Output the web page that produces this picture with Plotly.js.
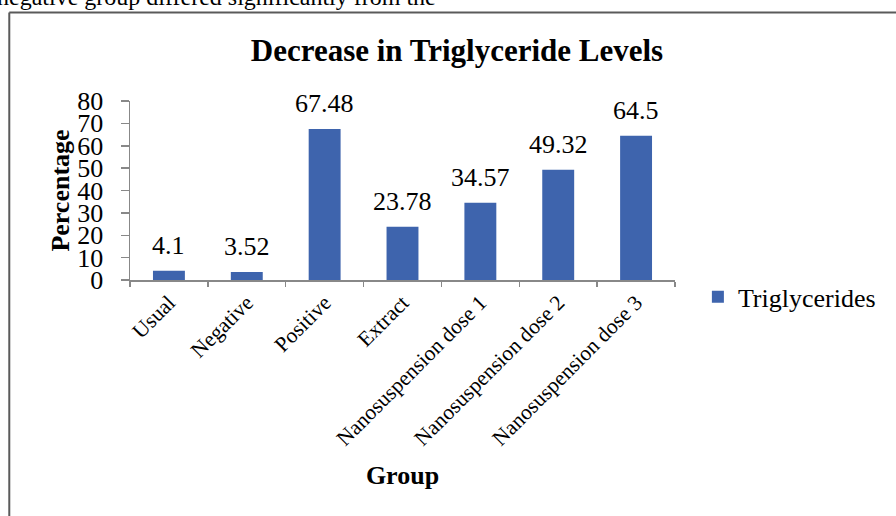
<!DOCTYPE html>
<html>
<head>
<meta charset="utf-8">
<script src="https://cdn.plot.ly/plotly-3.0.1.min.js"></script>
<style>
  html, body { margin: 0; padding: 0; background: #fff; }
  #chart { width: 896px; height: 516px; }
</style>
</head>
<body>
<div id="chart"></div>
<script>
// Percentage decrease in triglyceride levels per treatment group
const groups = ["Usual", "Negative", "Positive", "Extract",
                "Nanosuspension dose 1", "Nanosuspension dose 2", "Nanosuspension dose 3"];
const triglycerides = [4.1, 3.52, 67.48, 23.78, 34.57, 49.32, 64.5];
const yTicks = [0, 10, 20, 30, 40, 50, 60, 70, 80];

const serif = "Liberation Serif, Times New Roman, serif";
const barBlue = "#3E64AD";
const axisGrey = "#888888";
const frameGrey = "#5a5a5a";

const trace = {
  type: "bar",
  name: "Triglycerides",
  x: groups,
  y: triglycerides,
  marker: { color: barBlue },
  showlegend: true,
  hoverinfo: "x+y"
};

// value labels sitting above each bar
const valueLabels = groups.map((g, i) => ({
  x: g, y: triglycerides[i], xref: "x", yref: "y",
  text: String(triglycerides[i]),
  showarrow: false, yanchor: "bottom", yshift: 9,
  font: { family: serif, size: 26, color: "#000" }
}));

// running page text above the chart frame
const pageText = {
  xref: "paper", yref: "paper", x: -0.2477, y: 1.497,
  xanchor: "left", yanchor: "bottom", showarrow: false,
  text: "negative group differed significantly from the",
  font: { family: serif, size: 24, color: "#000" }
};

const layout = {
  width: 896, height: 516,
  margin: { l: 130, r: 221, t: 101, b: 236, pad: 0 },
  paper_bgcolor: "#fff", plot_bgcolor: "#fff",
  bargap: 0.59,
  title: {
    text: "<b>Decrease in Triglyceride Levels</b>",
    font: { family: serif, size: 31, color: "#000" },
    xref: "paper", x: 0.6, xanchor: "center",
    yref: "container", y: 1 - 50 / 516, yanchor: "middle"
  },
  xaxis: {
    type: "category",
    showline: true, linecolor: axisGrey, linewidth: 1.5,
    ticks: "outside", tickson: "boundaries", ticklen: 5, tickcolor: axisGrey, tickwidth: 1.5,
    tickangle: -45,
    tickfont: { family: serif, size: 21.5, color: "#000" },
    showgrid: false, zeroline: false,
    title: { text: "<b>Group</b>", font: { family: serif, size: 26, color: "#000" }, standoff: 16 }
  },
  yaxis: {
    range: [0, 80],
    tickvals: yTicks,
    showline: true, linecolor: axisGrey, linewidth: 1.5,
    ticks: "outside", ticklen: 8, tickcolor: axisGrey, tickwidth: 1.5,
    ticklabelstandoff: 12,
    tickfont: { family: serif, size: 26, color: "#000" },
    showgrid: false, zeroline: false,
    title: { text: "<b>Percentage</b>", font: { family: serif, size: 26, color: "#000" }, standoff: 0 }
  },
  showlegend: true,
  legend: {
    x: 1.042, xanchor: "left", y: -0.094, yanchor: "middle",
    font: { family: serif, size: 26, color: "#000" },
    bgcolor: "rgba(0,0,0,0)"
  },
  annotations: valueLabels.concat([pageText]),
  shapes: [
    // frame around the chart (left and top edges)
    { type: "line", xref: "paper", yref: "paper", x0: -0.2215, x1: -0.2215, y0: 1.4944, y1: -1.4,
      line: { color: frameGrey, width: 2 } },
    { type: "line", xref: "paper", yref: "paper", x0: -0.2215, x1: 1.45, y0: 1.4944, y1: 1.4944,
      line: { color: frameGrey, width: 2 } }
  ]
};

Plotly.newPlot("chart", [trace], layout, { displayModeBar: false, staticPlot: true });
</script>
</body>
</html>
